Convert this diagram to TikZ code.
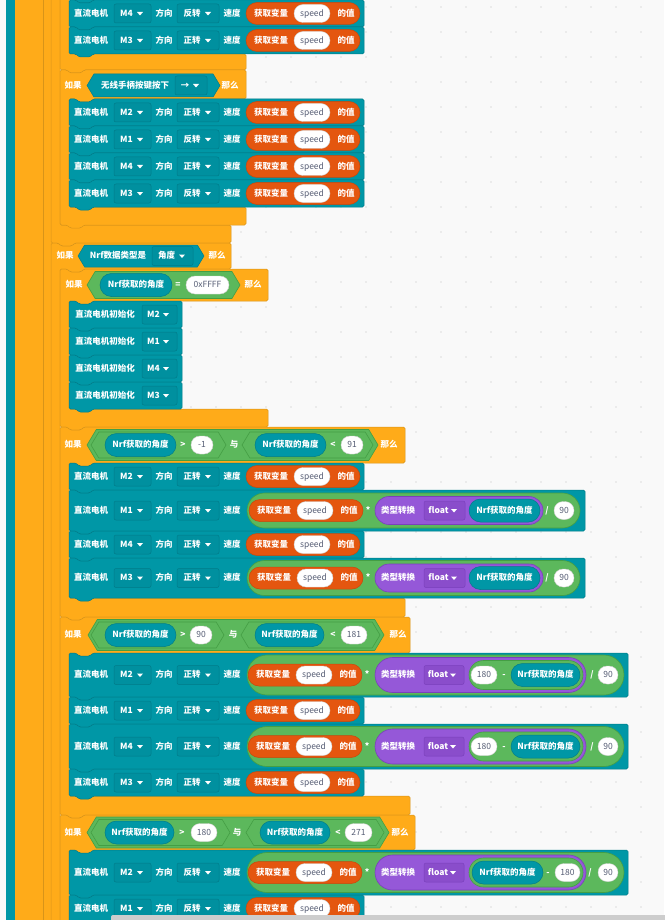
\documentclass[tikz,border=0pt]{standalone}
\usepackage{fontspec}
\setmainfont{Noto Sans CJK SC}
\newcommand\fsz{\fontsize{8.5}{9}\selectfont\bfseries}
\newcommand\fszo{\fontsize{8.5}{9}\selectfont}
\definecolor{bgc}{HTML}{F9F9F9}
\definecolor{dotc}{HTML}{DDDDDD}
\definecolor{tealf}{HTML}{0097A6}
\definecolor{teald}{HTML}{007C89}
\definecolor{tealdd}{HTML}{00909F}
\definecolor{orf}{HTML}{FFAB19}
\definecolor{ord}{HTML}{D89419}
\definecolor{varf}{HTML}{E4560F}
\definecolor{vard}{HTML}{C9480B}
\definecolor{grf}{HTML}{5CB85C}
\definecolor{grd}{HTML}{449E44}
\definecolor{puf}{HTML}{9558D8}
\definecolor{pud}{HTML}{7A40BC}
\definecolor{pudd}{HTML}{8A4DCB}
\definecolor{ovtxt}{HTML}{575E75}
\definecolor{ovd}{HTML}{D0D0D0}
\definecolor{scrollc}{HTML}{CDCDCD}
\tikzset{
  lbl/.style={text=white,font=\fsz,inner sep=0pt,text height=6.8pt,text depth=1.5pt},
  ovt/.style={text=ovtxt,font=\fszo,inner sep=0pt,text height=6.8pt,text depth=1.5pt},
  tealblk/.style={fill=tealf,draw=teald,line width=0.5pt,rounded corners=1.5pt},
  orblk/.style={fill=orf,draw=ord,line width=0.5pt,rounded corners=1.5pt},
  ddt/.style={fill=tealdd,draw=teald,line width=0.5pt,rounded corners=2pt},
  ddp/.style={fill=pudd,draw=pud,line width=0.5pt,rounded corners=2pt},
  wovs/.style={fill=white,draw=ovd,line width=0.4pt},
  tovs/.style={fill=tealf,draw=teald,line width=0.5pt},
  vars/.style={fill=varf,draw=vard,line width=0.5pt},
  grs/.style={fill=grf,draw=grd,line width=0.6pt},
  pus/.style={fill=puf,draw=pud,line width=0.6pt},
  tri/.style={fill=white},
}
% statement block with notch and tab
\newcommand\stmtshape[5]{\path[#1] (#2,#3) -- (#2+7,#3) -- (#2+10,#3+3) -- (#2+21,#3+3) -- (#2+24,#3) -- (#4,#3) -- (#4,#5) -- (#2+24,#5) -- (#2+21,#5+3) -- (#2+10,#5+3) -- (#2+7,#5) -- (#2,#5) -- cycle;}
% C-shaped if block: x1,y1,xr,yh,yb,ye
\newcommand\cshape[6]{\path[orblk] (#1,#2) -- (#1+7,#2) -- (#1+10,#2+3) -- (#1+21,#2+3) -- (#1+24,#2) -- (#3,#2) -- (#3,#4) -- (#1+33,#4) -- (#1+30,#4+3) -- (#1+19,#4+3) -- (#1+16,#4) -- (#1+9,#4) -- (#1+9,#5) -- (#3,#5) -- (#3,#6) -- (#1+24,#6) -- (#1+21,#6+3) -- (#1+10,#6+3) -- (#1+7,#6) -- (#1,#6) -- cycle;}
\newcommand\ddbox[6]{\path[#6] (#2,#4-9.5) rectangle (#3,#4+9.5);
  \node[lbl] (#1) at ({(#2+#3)/2-6},#4) {#5};
  \path[tri] (#3-14,#4-1.5) -- (#3-8,#4-1.5) -- (#3-11,#4+2) -- cycle;}
\newcommand\wov[5]{\path[wovs,rounded corners=9pt] (#2,#4-9) rectangle (#3,#4+9);
  \node[ovt] (#1) at ({(#2+#3)/2},#4) {#5};}
\newcommand\tov[4]{\path[tovs,rounded corners=11.5pt] (#2,#4-11.5) rectangle (#3,#4+11.5);
  \node[lbl] (#1) at ({(#2+#3)/2},#4) {Nrf获取的角度};}
\newcommand\hexs[5]{\path[#1] (#2,#4) -- (#2+0.6*#5,#4-#5) -- (#3-0.6*#5,#4-#5) -- (#3,#4) -- (#3-0.6*#5,#4+#5) -- (#2+0.6*#5,#4+#5) -- cycle;}
\newcommand\varrep[3]{\path[vars,rounded corners=11pt] (#2,#3-11) rectangle (#2+114,#3+11);
  \node[lbl] (#1a) at (#2+25,#3) {获取变量};
  \wov{#1b}{#2+48}{#2+84}{#3}{speed}
  \node[lbl] (#1c) at (#2+100,#3) {的值};}
\newcommand\mhead[4]{\node[lbl] (#1h1) at (91,#2) {直流电机};
  \ddbox{#1m}{114}{151}{#2}{#3}{ddt}
  \node[lbl] (#1h2) at (164,#2) {方向};
  \ddbox{#1d}{177}{219}{#2}{#4}{ddt}
  \node[lbl] (#1h3) at (232,#2) {速度};}
\newcommand\smotor[5]{\stmtshape{tealblk}{69}{#2}{364}{#3}
  \pgfmathsetmacro\ycc{(#2+#3)/2}
  \mhead{#1}{\ycc}{#4}{#5}
  \varrep{#1v}{246}{\ycc}}
\newcommand\bmotorA[5]{\stmtshape{tealblk}{69}{#2}{585}{#3}
  \pgfmathsetmacro\ycc{(#2+#3)/2}
  \mhead{#1}{\ycc}{#4}{#5}
  \path[grs,rounded corners=17.5pt] (247,\ycc-17.5) rectangle (580,\ycc+17.5);
  \varrep{#1v}{249}{\ycc}
  \node[lbl] (#1x) at (368,\ycc) {*};
  \path[pus,rounded corners=14pt] (375,\ycc-14) rectangle (543,\ycc+14);
  \node[lbl] (#1p) at (398,\ycc) {类型转换};
  \ddbox{#1f}{424}{465}{\ycc}{float}{ddp}
  \tov{#1n}{469}{540}{\ycc}
  \node[lbl] (#1s) at (547,\ycc) {/};
  \wov{#1w}{554}{574}{\ycc}{90}}
\newcommand\bmotorbase[5]{\stmtshape{tealblk}{69}{#2}{628}{#3}
  \pgfmathsetmacro\ycc{(#2+#3)/2}
  \mhead{#1}{\ycc}{#4}{#5}
  \path[grs,rounded corners=20pt] (247,\ycc-20) rectangle (624,\ycc+20);
  \varrep{#1v}{248}{\ycc}
  \node[lbl] (#1x) at (367,\ycc) {*};
  \path[pus,rounded corners=17.5pt] (375,\ycc-17.5) rectangle (586,\ycc+17.5);
  \node[lbl] (#1p) at (398,\ycc) {类型转换};
  \ddbox{#1f}{424}{464}{\ycc}{float}{ddp}
  \path[grs,rounded corners=14.5pt] (469,\ycc-14.5) rectangle (583,\ycc+14.5);
  \wov{#1w}{598}{618}{\ycc}{90}}
\newcommand\bmotorB[5]{\bmotorbase{#1}{#2}{#3}{#4}{#5}
  \wov{#1k}{471}{497}{\ycc}{180}
  \node[lbl] (#1mi) at (504,\ycc) {-};
  \tov{#1n}{511}{580}{\ycc}
  \node[lbl] (#1s) at (592,\ycc) {/};}
\newcommand\bmotorC[5]{\bmotorbase{#1}{#2}{#3}{#4}{#5}
  \tov{#1n}{472}{543}{\ycc}
  \node[lbl] (#1mi) at (548,\ycc) {-};
  \wov{#1k}{555}{580}{\ycc}{180}
  \node[lbl] (#1s) at (590,\ycc) {/};}
\newcommand\initrow[4]{\stmtshape{tealblk}{69}{#2}{182}{#3}
  \pgfmathsetmacro\ycc{(#2+#3)/2}
  \node[lbl] (#1t) at (105,\ycc) {直流电机初始化};
  \ddbox{#1m}{142}{177}{\ycc}{#4}{ddt}}
\begin{document}
\begin{tikzpicture}[x=1pt,y=-1pt]
\useasboundingbox (0,0) rectangle (664,920);
\fill[bgc] (0,0) rectangle (664,920);
\foreach \i in {0,...,26} \foreach \j in {0,...,37} \fill[dotc] (16+25*\i,7+25*\j) circle (0.8pt);
% left stacks
\fill[tealf] (6,-5) rectangle (15,925);
\fill[orf] (15,-5) rectangle (60,925);
\draw[ord,line width=0.5pt] (43,-5) -- (43,925);
% x=51 blocks
\cshape{51}{-100}{231}{-70}{225}{243}
\cshape{51}{243}{231}{269}{1000}{1020}
\node[lbl] (cIf) at (65,256) {如果};
\hexs{tovs}{78}{204}{256}{11}
\node[lbl] (cType) at (118,256) {Nrf数据类型是};
\ddbox{cDd}{152}{193}{256}{角度}{ddt}
\node[lbl] (cThen) at (217,256) {那么};
% block A
\cshape{60}{-100}{246}{-70}{54}{70}
\stmtshape{tealblk}{69}{-27}{364}{0}
\smotor{aA}{0}{27}{M4}{反转}
\smotor{aB}{27}{54}{M3}{正转}
% block B
\cshape{60}{70}{246}{99}{207}{225}
\node[lbl] (bIf) at (73,85.5) {如果};
\hexs{tovs}{87}{220}{85.5}{11.5}
\node[lbl] (bBtn) at (135,85.5) {无线手柄按键按下};
\ddbox{bDir}{175}{207}{85.5}{→}{ddt}
\node[lbl] (bThen) at (230,85.5) {那么};
\smotor{bA}{99}{126}{M2}{正转}
\smotor{bB}{126}{153}{M1}{反转}
\smotor{bC}{153}{180}{M4}{正转}
\smotor{bD}{180}{207}{M3}{反转}
% block D
\cshape{60}{269}{268}{301}{409}{427}
\node[lbl] (dIf) at (74,285) {如果};
\hexs{grs}{87}{240}{285}{13.5}
\tov{dNrf}{100}{172}{285}
\node[lbl] (dEq) at (178,285) {=};
\wov{dVal}{186}{229}{285}{0xFFFF}
\node[lbl] (dThen) at (253,285) {那么};
\initrow{dA}{301}{328}{M2}
\initrow{dB}{328}{355}{M1}
\initrow{dC}{355}{382}{M4}
\initrow{dD}{382}{409}{M3}
% block E
\cshape{60}{427}{405}{463}{598}{617}
\node[lbl] (eIf) at (73,445) {如果};
\hexs{grs}{87}{378}{445}{15.5}
\hexs{grs}{91}{226}{445}{13}
\tov{eN1}{105}{176}{445}
\node[lbl] (eGt) at (183,445) {>};
\wov{eV1}{191}{213}{445}{-1}
\node[lbl] (eAnd) at (234,445) {与};
\hexs{grs}{242}{373}{445}{13}
\tov{eN2}{255}{326}{445}
\node[lbl] (eLt) at (333,445) {<};
\wov{eV2}{341}{363}{445}{91}
\node[lbl] (eThen) at (389,445) {那么};
\smotor{eA}{463}{490}{M2}{正转}
\bmotorA{eB}{490}{531}{M1}{正转}
\smotor{eC}{531}{558}{M4}{正转}
\bmotorA{eD}{558}{598}{M3}{正转}
% block F
\cshape{60}{617}{410}{653}{796}{815}
\node[lbl] (fIf) at (73,635) {如果};
\hexs{grs}{88}{384}{635}{15.5}
\hexs{grs}{91}{224}{635}{13}
\tov{fN1}{105}{176}{635}
\node[lbl] (fGt) at (183,635) {>};
\wov{fV1}{190}{212}{635}{90}
\node[lbl] (fAnd) at (233,635) {与};
\hexs{grs}{241}{380}{635}{13}
\tov{fN2}{255}{324}{635}
\node[lbl] (fLt) at (333,635) {<};
\wov{fV2}{341}{367}{635}{181}
\node[lbl] (fThen) at (398,635) {那么};
\bmotorB{fA}{653}{697}{M2}{正转}
\smotor{fB}{697}{724}{M1}{正转}
\bmotorB{fC}{724}{769}{M4}{正转}
\smotor{fD}{769}{796}{M3}{正转}
% block G
\cshape{60}{815}{415}{850}{1000}{1020}
\node[lbl] (gIf) at (73,832.5) {如果};
\hexs{grs}{87}{389}{832.5}{15.5}
\hexs{grs}{91}{230}{832.5}{13}
\tov{gN1}{105}{174}{832.5}
\node[lbl] (gGt) at (182,832.5) {>};
\wov{gV1}{191}{217}{832.5}{180}
\node[lbl] (gAnd) at (237,832.5) {与};
\hexs{grs}{246}{384}{832.5}{13}
\tov{gN2}{260}{330}{832.5}
\node[lbl] (gLt) at (338,832.5) {<};
\wov{gV2}{345}{372}{832.5}{271}
\node[lbl] (gThen) at (400,832.5) {那么};
\bmotorC{gA}{850}{895}{M2}{反转}
\smotor{gB}{895}{922}{M1}{反转}
% scrollbar
\fill[scrollc,rounded corners=2pt] (111,915) rectangle (670,922);
\end{tikzpicture}
\end{document}
